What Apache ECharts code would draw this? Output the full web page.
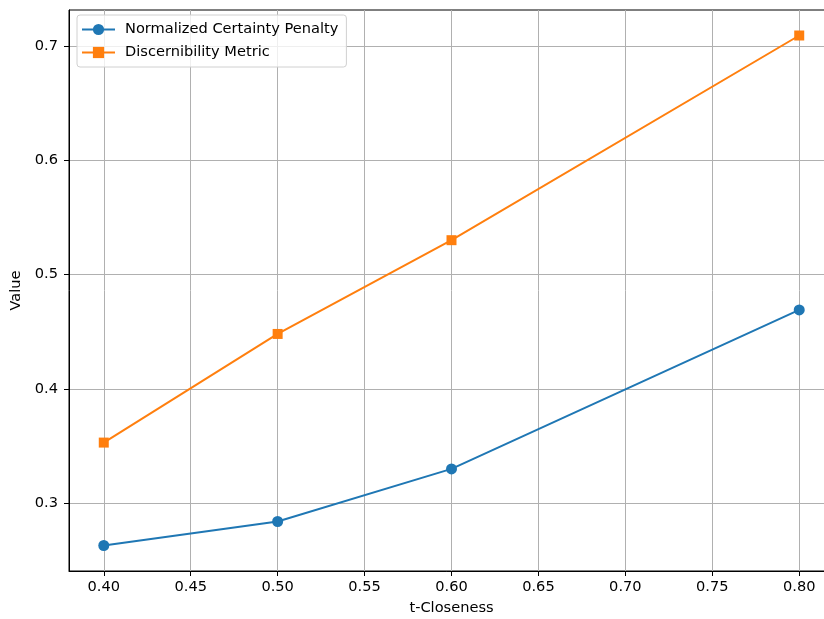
<!DOCTYPE html>
<html>
<head>
<meta charset="utf-8">
<script src="https://cdn.jsdelivr.net/npm/echarts@6/dist/echarts.min.js"></script>
<style>html,body{margin:0;padding:0;background:#fff}#c{width:824px;height:619px}</style>
</head>
<body>
<div id="c"></div>
<script>
const tCloseness = [0.40, 0.50, 0.60, 0.80];
const ncpValues = [0.263, 0.284, 0.330, 0.469];
const dmValues = [0.353, 0.448, 0.530, 0.709];
const xTicks = [0.40, 0.45, 0.50, 0.55, 0.60, 0.65, 0.70, 0.75, 0.80];
const yTicks = [0.3, 0.4, 0.5, 0.6, 0.7];
const seriesNames = ['Normalized Certainty Penalty', 'Discernibility Metric'];

const chart = echarts.init(document.getElementById('c'), null, {renderer: 'canvas'});
const font = 'DejaVu Sans';
const fs = 14.6;
const axisCommon = {
  axisLine: {show: true, onZero: false, lineStyle: {color: '#000', width: 1}},
  axisTick: {show: true, length: 5, lineStyle: {color: '#000', width: 1}},
  splitLine: {show: true, lineStyle: {color: '#b0b0b0', width: 1}},
  nameTextStyle: {fontFamily: font, fontSize: fs, color: '#000'}
};
chart.setOption({
  animation: false,
  backgroundColor: '#fff',
  grid: {left: 69, width: 765, top: 10, height: 561, containLabel: false, outerBoundsMode: 'none',
    show: true, borderColor: '#000', borderWidth: 1},
  legend: {
    show: true,
    left: 77, top: 15,
    orient: 'vertical',
    itemWidth: 33, itemHeight: 14, itemGap: 8,
    padding: [7, 8, 7, 4],
    borderColor: '#d0d0d0', borderWidth: 1, borderRadius: 3,
    backgroundColor: 'rgba(255,255,255,0.8)',
    textStyle: {fontFamily: font, fontSize: fs, color: '#000', padding: [0, 0, 0, 5]},
    data: seriesNames
  },
  xAxis: Object.assign({}, axisCommon, {
    type: 'value', min: 0.38, max: 0.82,
    name: 't-Closeness', nameLocation: 'middle', nameGap: 30,
    axisTick: Object.assign({}, axisCommon.axisTick, {customValues: xTicks}),
    axisLabel: {customValues: xTicks, fontFamily: font, fontSize: fs, color: '#000', margin: 9,
      formatter: v => v.toFixed(2)}
  }),
  yAxis: Object.assign({}, axisCommon, {
    type: 'value', min: 0.2407, max: 0.7313,
    name: 'Value', nameLocation: 'middle', nameGap: 42,
    axisTick: Object.assign({}, axisCommon.axisTick, {customValues: yTicks}),
    axisLabel: {customValues: yTicks, fontFamily: font, fontSize: fs, color: '#000', margin: 11,
      formatter: v => v.toFixed(1)}
  }),
  series: [
    {name: seriesNames[0], type: 'line', data: tCloseness.map((x, i) => [x, ncpValues[i]]),
      color: '#1f77b4', symbol: 'circle', symbolSize: 11, showSymbol: true,
      lineStyle: {width: 2, color: '#1f77b4'}, itemStyle: {color: '#1f77b4'}},
    {name: seriesNames[1], type: 'line', data: tCloseness.map((x, i) => [x, dmValues[i]]),
      color: '#ff7f0e', symbol: 'rect', symbolSize: 10, showSymbol: true,
      lineStyle: {width: 2, color: '#ff7f0e'}, itemStyle: {color: '#ff7f0e'}}
  ]
});
</script>
</body>
</html>
